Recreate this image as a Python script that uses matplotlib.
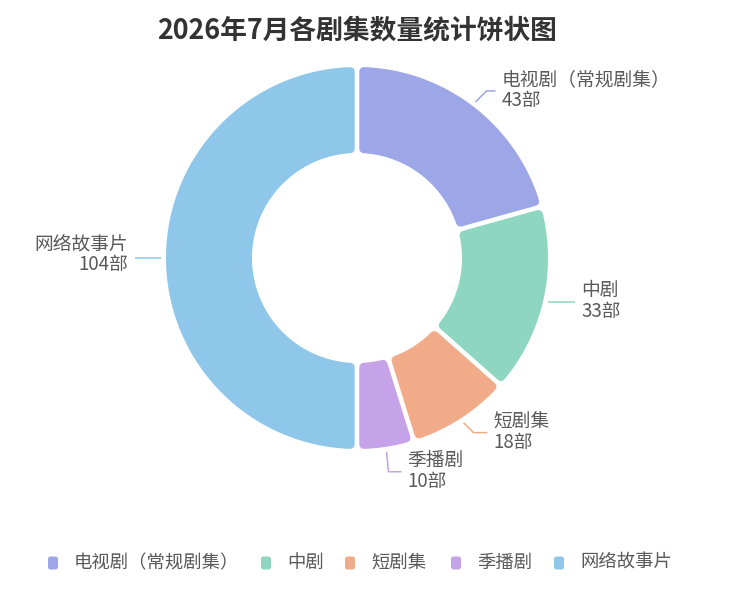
import numpy as np
import matplotlib
matplotlib.use('Agg')
import matplotlib.pyplot as plt
from matplotlib.patches import Polygon, FancyBboxPatch

plt.rcParams['font.family'] = ['Noto Sans CJK SC', 'DejaVu Sans']

# 数据
names = ['电视剧（常规剧集）', '中剧', '短剧集', '季播剧', '网络故事片']
counts = [43, 33, 18, 10, 104]
colors = ['#9da6e6', '#8fd6c0', '#f2ab89', '#c6a2e8', '#8ec7ea']
title = '2026年7月各剧集数量统计饼状图'

W, H = 735, 599
fig = plt.figure(figsize=(W / 100, H / 100), dpi=100)
ax = fig.add_axes([0, 0, 1, 1])

cx, cy = 357, H - 258   # 圆心（y 轴向上）
r_out, r_in = 191, 105

wedges, _ = ax.pie(counts, colors=colors, radius=r_out, center=(cx, cy),
                   startangle=90, counterclock=False,
                   wedgeprops=dict(width=r_out - r_in))
ax.set_xlim(0, W)
ax.set_ylim(0, H)
ax.set_aspect('equal')
ax.axis('off')

# 圆角 + 间隙：按饼图扇区重新画
gap, rad = 2.3, 4.5
delta = gap + rad
for w, c in zip(wedges, colors):
    t1, t2 = np.radians(w.theta1), np.radians(w.theta2)
    ro, ri = w.r - rad, w.r - w.width + rad
    a_o = np.arcsin(delta / ro)
    a_i = np.arcsin(delta / ri)
    to = np.linspace(t1 + a_o, t2 - a_o, 120)
    ti = np.linspace(t2 - a_i, t1 + a_i, 120)
    xs = np.concatenate([cx + ro * np.cos(to), cx + ri * np.cos(ti)])
    ys = np.concatenate([cy + ro * np.sin(to), cy + ri * np.sin(ti)])
    ax.add_patch(Polygon(np.column_stack([xs, ys]), closed=True, facecolor=c,
                         edgecolor=c, linewidth=2 * rad * 0.72, joinstyle='round'))
    w.set_visible(False)

# 标签（引导线）
elbow = [(11, 11), (20, 0), (10, -10), (2, -20), (-20, 0)]
tail = [9, 7, 14, 13, -6]
for w, n, v, c, (ex, ey), tl in zip(wedges, names, counts, colors, elbow, tail):
    mid = np.radians((w.theta1 + w.theta2) / 2)
    x0 = cx + (r_out + 5) * np.cos(mid)
    y0 = cy + (r_out + 5) * np.sin(mid)
    x1, y1 = x0 + ex, y0 + ey
    x2 = x1 + tl
    ax.plot([x0, x1, x2], [y0, y1, y1], color=c, lw=1.1, solid_capstyle='butt')
    if tl > 0:
        ax.text(x2 + 6, y1 + 1, f'{n}\n{v}部', ha='left', va='center',
                fontsize=13.5, color='#5a5a5a', linespacing=1.0)
    else:
        ax.text(x2 - 7, y1 + 4, f'{n}\n{v}部', ha='right', va='center',
                fontsize=13.5, color='#5a5a5a', linespacing=1.0,
                multialignment='right')

# 标题
ax.text(357, H - 30, title, ha='center', va='center', fontsize=19.3,
        fontweight='bold', color='#333333')

# 图例
leg_x = [74, 287, 371, 477, 580]
leg_y = H - 563
for n, c, lx in zip(names, colors, leg_x):
    ax.add_patch(FancyBboxPatch((lx - 26, leg_y - 6.5), 10, 13,
                                boxstyle='round,pad=0,rounding_size=2.5',
                                facecolor=c, edgecolor='none'))
    ax.text(lx, leg_y, n, ha='left', va='center', fontsize=13.2, color='#5a5a5a')

fig.savefig('out.png', dpi=100, facecolor='white')
